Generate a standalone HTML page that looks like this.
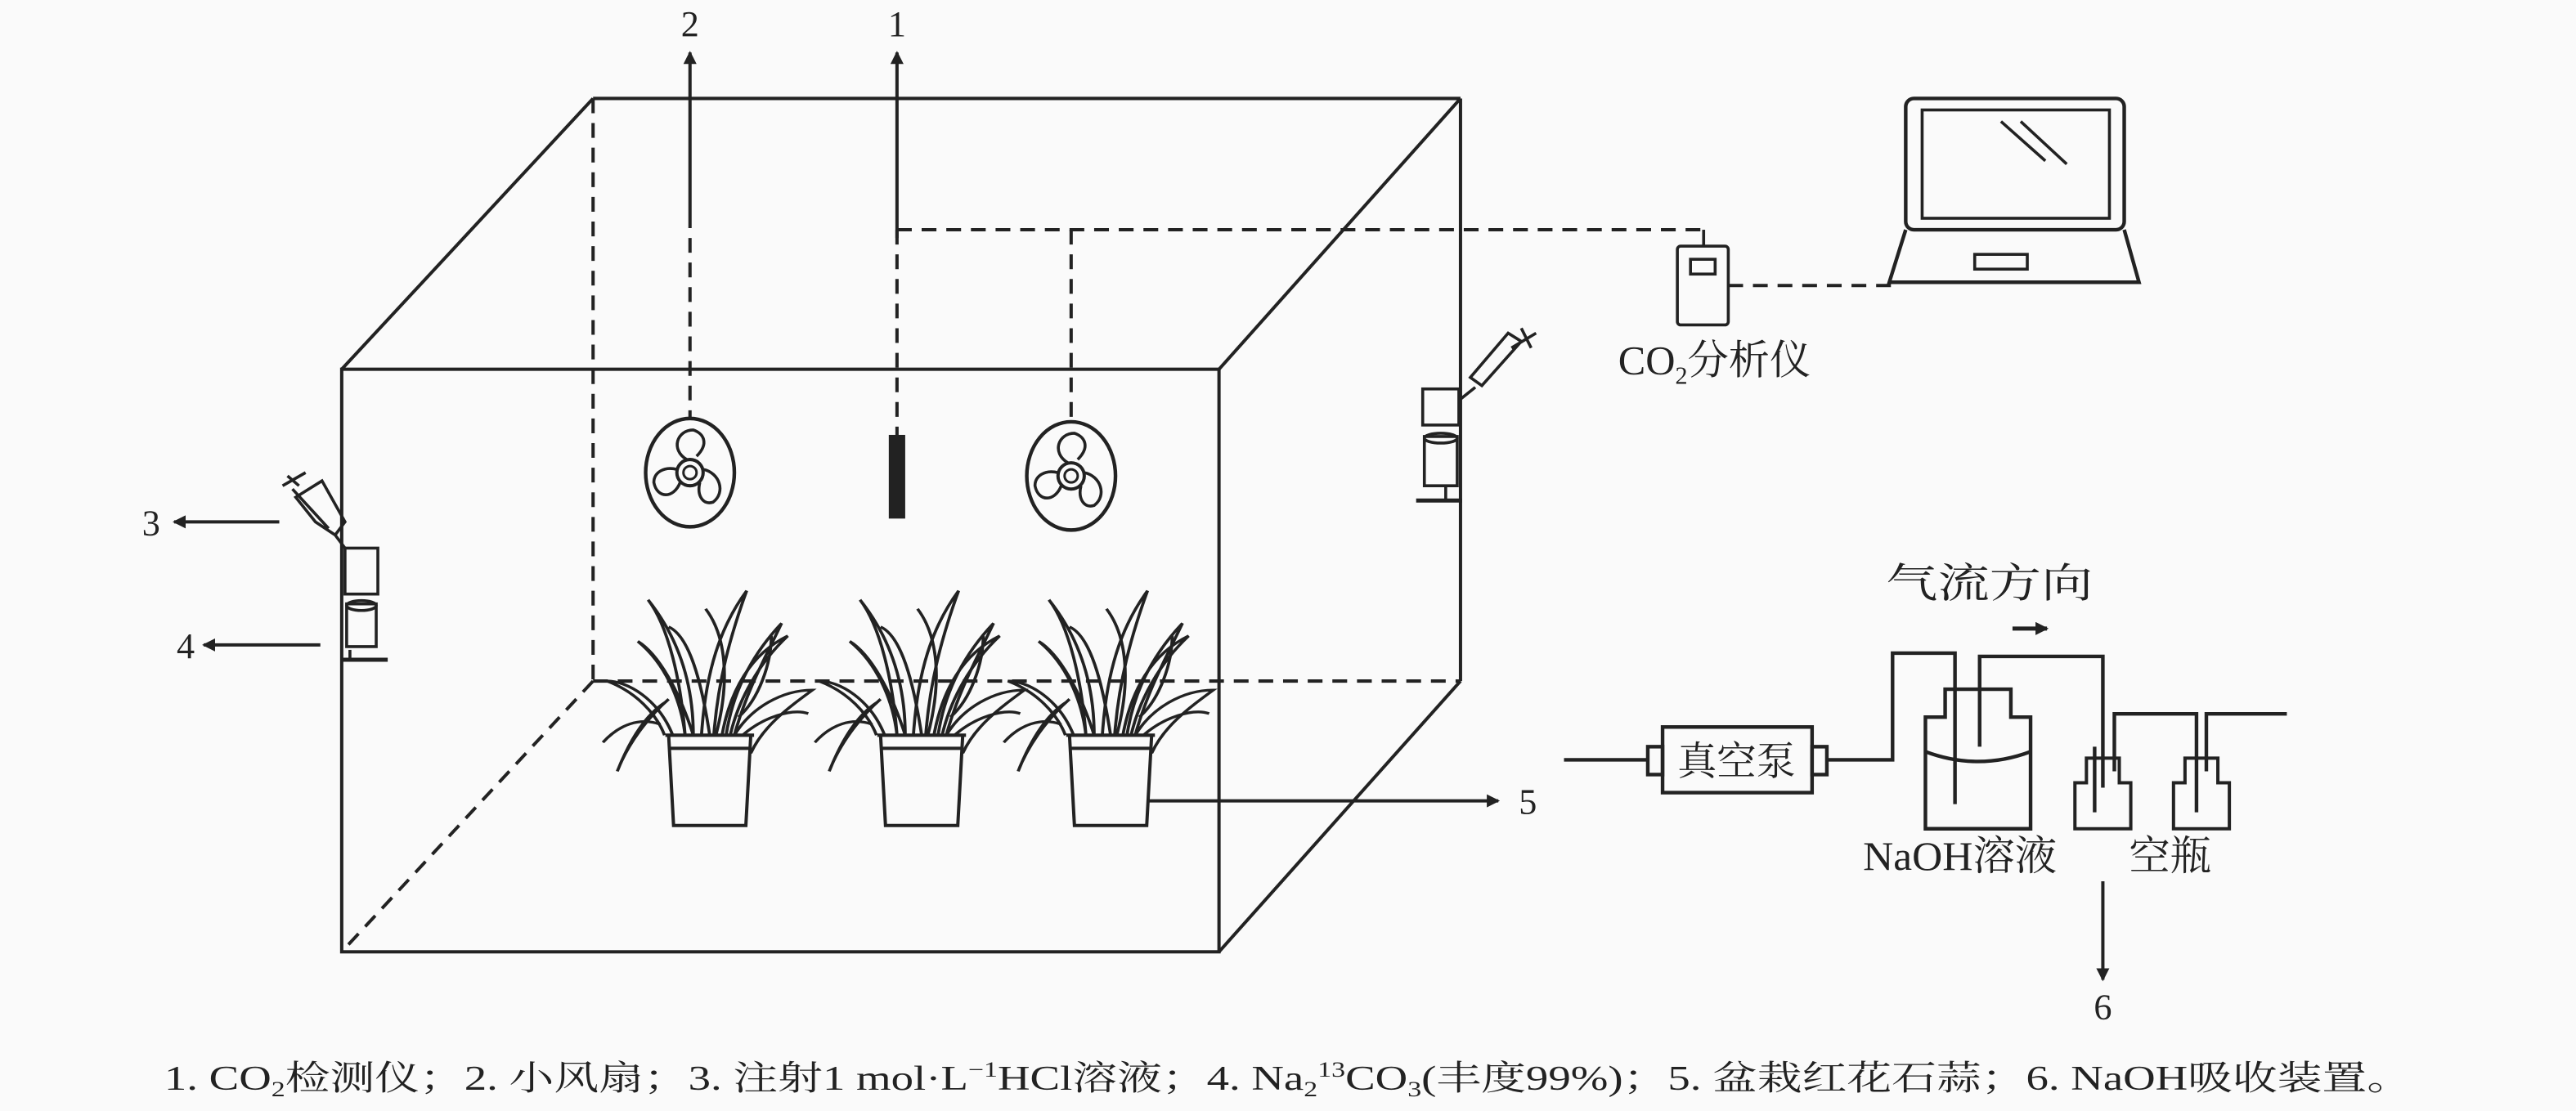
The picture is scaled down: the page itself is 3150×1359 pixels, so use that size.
<!DOCTYPE html>
<html><head><meta charset="utf-8"><style>
html,body{margin:0;padding:0;background:#fafafa;}
svg{display:block;}
text{font-family:"Liberation Serif","Noto Serif CJK SC",serif;fill:#222;}
</style></head><body>
<svg width="3150" height="1359" viewBox="0 0 1568 677" preserveAspectRatio="none" xmlns="http://www.w3.org/2000/svg">
<defs>
<marker id="ah" markerWidth="8" markerHeight="8" refX="7" refY="4" orient="auto" markerUnits="userSpaceOnUse"><path d="M0,0 L8,4 L0,8 Z" fill="#222"/></marker>
<g id="fan"><ellipse cx="0" cy="0" rx="27" ry="33" fill="none" stroke="#222" stroke-width="2.2"/>
<circle cx="0" cy="0" r="8" fill="none" stroke="#222" stroke-width="2"/><circle cx="0" cy="0" r="4" fill="none" stroke="#222" stroke-width="1.5"/>
<path d="M-2,-8 C-12,-14 -8,-26 2,-26 C8,-24 12,-18 4,-10 M8,-2 C18,0 22,12 14,18 C8,20 4,14 6,6 M-6,6 C-10,16 -20,16 -22,6 C-22,0 -16,-4 -8,-2" fill="none" stroke="#222" stroke-width="1.8"/></g>
<g id="leaves" fill="none" stroke="#222" stroke-width="1.5">
<path d="M-12,0 C-14,-30 -20,-60 -30,-75 C-16,-55 -8,-30 -8,0"/>
<path d="M-4,0 C-2,-35 5,-60 18,-80 C10,-55 4,-30 2,0"/>
<path d="M6,0 C10,-25 20,-45 38,-55 C24,-40 14,-20 10,0"/>
<path d="M-18,0 C-25,-20 -40,-30 -50,-30 C-36,-24 -26,-12 -22,0"/>
<path d="M12,0 C20,-15 35,-25 50,-25 C38,-15 26,-5 20,10"/>
<path d="M-20,-20 C-30,-10 -40,5 -45,20 C-38,0 -30,-12 -22,-18"/>
<path d="M0,0 C-4,-30 -10,-55 -20,-60 M3,0 C10,-30 8,-55 -2,-70 M14,-10 C24,-20 30,-40 30,-55"/>
<path d="M-8,0 C-15,-25 -25,-45 -35,-52 C-22,-40 -14,-20 -12,0"/>
<path d="M8,0 C12,-30 25,-50 35,-62 C28,-45 18,-25 12,0"/>
<path d="M16,0 C26,-10 40,-15 48,-12 M-24,-6 C-34,-10 -44,-6 -52,4"/>
</g>
<g id="plant">
<g transform="scale(1.25,1.1)"><use href="#leaves"/></g>
<path d="M-25,0 L-22,55 L22,55 L25,0 Z M-25,8 L25,8 M-27,0 h54" fill="#fafafa" stroke="#222" stroke-width="2"/>
</g>
<g id="bottle" fill="none" stroke="#222" stroke-width="2"><path d="M-17,43 V15 H-10 V0 H10 V15 H17 V43 Z"/></g>
</defs>
<g fill="none" stroke="#222" stroke-width="2">
<g stroke-dasharray="9,6">
<line x1="361" y1="60" x2="361" y2="415"/>
<line x1="361" y1="415" x2="889" y2="415"/>
<line x1="361" y1="415" x2="208" y2="580"/>
<line x1="420" y1="130" x2="420" y2="255"/>
<line x1="546" y1="140" x2="546" y2="265"/>
<line x1="546" y1="140" x2="1037" y2="140"/>
<line x1="652" y1="140" x2="652" y2="257"/>
<line x1="1052" y1="174" x2="1155" y2="174"/>
</g>
<rect x="208" y="225" width="534" height="355"/>
<line x1="361" y1="60" x2="889" y2="60"/>
<line x1="889" y1="60" x2="889" y2="415"/>
<line x1="208" y1="225" x2="361" y2="60"/>
<line x1="742" y1="225" x2="889" y2="60"/>
<line x1="742" y1="580" x2="889" y2="415"/>
<line x1="420" y1="130" x2="420" y2="32" marker-end="url(#ah)"/>
<line x1="546" y1="145" x2="546" y2="32" marker-end="url(#ah)"/>
<line x1="170" y1="318" x2="106" y2="318" marker-end="url(#ah)"/>
<line x1="195" y1="393" x2="124" y2="393" marker-end="url(#ah)"/>
<line x1="686" y1="488" x2="912" y2="488" marker-end="url(#ah)"/>
<line x1="1280" y1="537" x2="1280" y2="597" marker-end="url(#ah)"/>
<line x1="1225" y1="383" x2="1246" y2="383" stroke-width="2.5" marker-end="url(#ah)"/>
</g>
<use href="#fan" x="420" y="288"/>
<use href="#fan" x="652" y="290"/>
<rect x="541" y="265" width="10" height="51" fill="#222"/>
<use href="#plant" x="432" y="448"/>
<use href="#plant" x="561" y="448"/>
<use href="#plant" x="676" y="448"/>
<g fill="none" stroke="#222" stroke-width="1.8">
<path d="M178,298 L200,322 M182,296 L175,290 M172,296 L186,288 M180,303 L196,293 L210,318 L204,326 L192,318 Z M204,326 L210,334"/>
<rect x="210" y="334" width="20" height="28"/>
<path d="M211,368 h18 v26 h-18 z"/><ellipse cx="220" cy="369" rx="9" ry="3"/>
<line x1="208" y1="402" x2="236" y2="402" stroke-width="2.5"/><line x1="213" y1="396" x2="213" y2="402"/>
<path d="M935,203 L920,212 M926,200 L932,212 M926,208 L902,235 L895,230 L918,203 Z M898,236 L888,244"/>
<rect x="866" y="237" width="22" height="22"/>
<path d="M867,266 h20 v30 h-20 z"/><ellipse cx="877" cy="267" rx="10" ry="3"/>
<line x1="862" y1="305" x2="890" y2="305" stroke-width="2.5"/><line x1="880" y1="296" x2="880" y2="305"/>
<rect x="1021" y="150" width="31" height="48" rx="2"/>
<rect x="1029" y="158" width="15" height="9"/>
<line x1="1037" y1="140" x2="1037" y2="150"/>
<rect x="1160" y="60" width="133" height="80" rx="5" stroke-width="2.2"/>
<rect x="1170" y="67" width="114" height="66"/>
<path d="M1160,140 L1150,172 L1302,172 L1293,140" stroke-width="2.2"/>
<rect x="1202" y="155" width="32" height="9"/>
<line x1="1218" y1="74" x2="1245" y2="98"/><line x1="1230" y1="74" x2="1258" y2="100"/>
</g>
<g fill="none" stroke="#222" stroke-width="2.2">
<line x1="952" y1="463" x2="1003" y2="463"/>
<rect x="1012" y="443" width="91" height="40"/>
<rect x="1003" y="455" width="9" height="17"/>
<rect x="1103" y="455" width="9" height="17"/>
<path d="M1112,463 H1152 V398 H1190 V490"/>
<path d="M1172,505 V437 H1184 V420 H1224 V437 H1236 V505 Z"/>
<path d="M1172,458 Q1204,470 1236,458"/>
<path d="M1205,455 V400 H1280 V480"/>
<use href="#bottle" x="1280" y="462"/>
<use href="#bottle" x="1340" y="462"/>
<path d="M1275,495 V455 M1287,470 V435 H1337 V495 M1343,470 V435 H1392"/>
</g>
<g font-size="22">
<text x="420" y="22" text-anchor="middle">2</text>
<text x="546" y="22" text-anchor="middle">1</text>
<text x="92" y="326" text-anchor="middle">3</text>
<text x="113" y="401" text-anchor="middle">4</text>
<text x="930" y="496" text-anchor="middle">5</text>
<text x="1280" y="621" text-anchor="middle">6</text>
</g>
<g font-size="25">
<text x="985" y="228">CO<tspan font-size="15" dy="6">2</tspan><tspan dy="-6">分析仪</tspan></text>
<text x="1148" y="364" textLength="126" lengthAdjust="spacingAndGlyphs">气流方向</text>
<text x="1057" y="472" font-size="24" text-anchor="middle">真空泵</text>
<text x="1134" y="530" textLength="118" lengthAdjust="spacingAndGlyphs">NaOH溶液</text>
<text x="1296" y="530">空瓶</text>
</g>
<text x="100" y="664" font-size="21" textLength="1368" lengthAdjust="spacingAndGlyphs">1. CO<tspan font-size="13" dy="4">2</tspan><tspan dy="-4">检测仪；2. 小风扇；3. 注射1 mol·L</tspan><tspan font-size="13" dy="-8">−1</tspan><tspan dy="8">HCl溶液；4. Na</tspan><tspan font-size="13" dy="4">2</tspan><tspan font-size="13" dy="-12">13</tspan><tspan dy="8">CO</tspan><tspan font-size="13" dy="4">3</tspan><tspan dy="-4">(丰度99%)；5. 盆栽红花石蒜；6. NaOH吸收装置。</tspan></text>
</svg>
</body></html>
